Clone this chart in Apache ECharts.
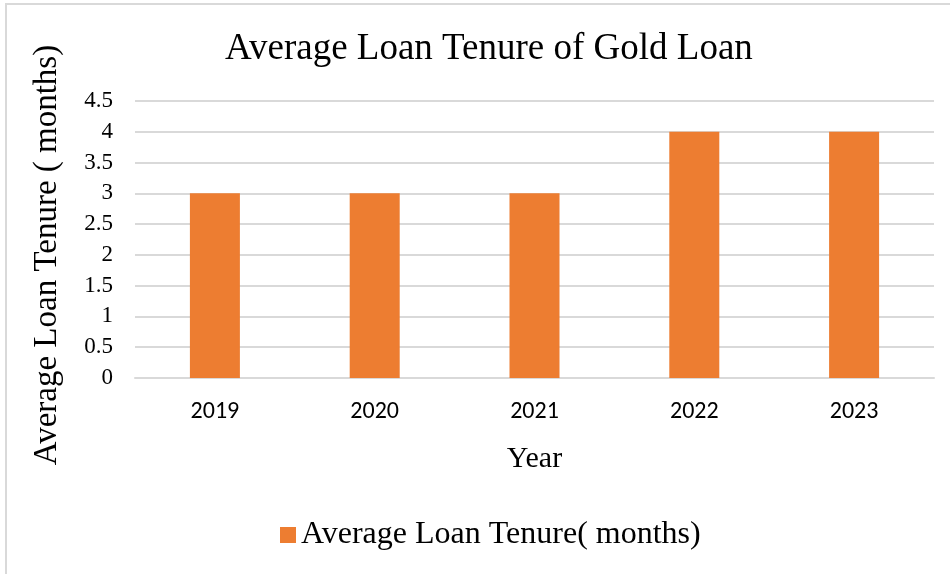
<!DOCTYPE html>
<html>
<head>
<meta charset="utf-8">
<style>
  html, body { margin: 0; padding: 0; background: #ffffff; }
  #chart { width: 950px; height: 574px; }
</style>
<script src="https://cdn.jsdelivr.net/npm/echarts@6/dist/echarts.min.js"></script>
</head>
<body>
<div id="chart"></div>
<script>
// Chart data
const years = ['2019', '2020', '2021', '2022', '2023'];
const tenureMonths = [3, 3, 3, 4, 4];
const seriesName = 'Average Loan Tenure( months)';
const yAxisTitle = 'Average Loan Tenure ( months)';
const yTicks = [0, 0.5, 1, 1.5, 2, 2.5, 3, 3.5, 4, 4.5];

const serif = '"Liberation Serif", "Times New Roman", serif';
const sans = 'Carlito, Calibri, "Open Sans", sans-serif';
const orange = '#ED7D31';
const gridGray = '#D9D9D9';

const chart = echarts.init(document.getElementById('chart'), null, { renderer: 'canvas' });

chart.setOption({
  backgroundColor: '#ffffff',
  animation: false,
  title: {
    text: 'Average Loan Tenure of Gold Loan',
    left: 220,
    top: 26,
    textStyle: { fontFamily: serif, fontSize: 37, fontWeight: 'normal', color: '#000000' }
  },
  grid: { left: 135, right: 16, top: 101, bottom: 196, containLabel: false },
  legend: {
    data: [seriesName],
    top: 514,
    left: 275,
    icon: 'rect',
    itemWidth: 16,
    itemHeight: 16,
    itemGap: 8,
    textStyle: { fontFamily: serif, fontSize: 32, color: '#000000' }
  },
  xAxis: {
    type: 'category',
    data: years,
    name: 'Year',
    nameLocation: 'middle',
    nameGap: 66,
    nameTextStyle: { fontFamily: serif, fontSize: 30, color: '#000000' },
    axisLine: { show: true, lineStyle: { color: gridGray, width: 2 } },
    axisTick: { show: false },
    axisLabel: { fontFamily: sans, fontSize: 24, color: '#000000', margin: 22 }
  },
  yAxis: {
    type: 'value',
    min: 0,
    max: 4.5,
    interval: 0.5,
    axisLine: { show: false },
    axisTick: { show: false },
    axisLabel: {
      fontFamily: serif, fontSize: 23, color: '#000000', margin: 22,
      formatter: v => (yTicks.includes(v) ? String(v) : '')
    },
    splitLine: { lineStyle: { color: gridGray, width: 2 } }
  },
  series: [{
    name: seriesName,
    type: 'bar',
    data: tenureMonths,
    barWidth: 50,
    itemStyle: { color: orange }
  }],
  graphic: [
    // chart frame (top and left edges)
    { type: 'line', shape: { x1: 5, y1: 4, x2: 950, y2: 4 }, style: { stroke: gridGray, lineWidth: 2 } },
    { type: 'line', shape: { x1: 6, y1: 4, x2: 6, y2: 574 }, style: { stroke: gridGray, lineWidth: 2 } },
    // rotated value-axis title
    {
      type: 'text',
      x: 47,
      y: 255,
      rotation: Math.PI / 2,
      style: {
        text: yAxisTitle,
        font: '33px ' + serif,
        fill: '#000000',
        align: 'center',
        verticalAlign: 'middle'
      }
    }
  ]
});
</script>
</body>
</html>
